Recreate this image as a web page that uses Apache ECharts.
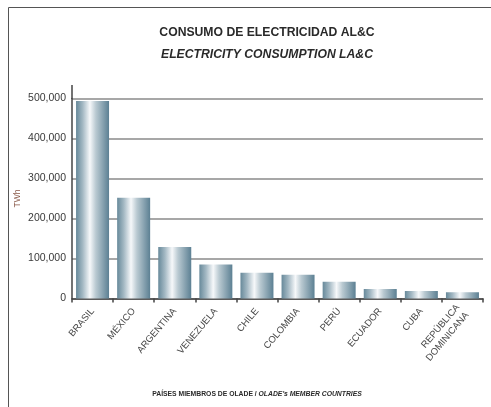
<!DOCTYPE html>
<html>
<head>
<meta charset="utf-8">
<script src="https://cdn.jsdelivr.net/npm/echarts@6/dist/echarts.min.js"></script>
<style>html,body{margin:0;padding:0;background:#fff}#c{width:491px;height:407px}</style>
</head>
<body>
<div id="c"></div>
<script>
var categories = ['BRASIL','MÉXICO','ARGENTINA','VENEZUELA','CHILE','COLOMBIA','PERÚ','ECUADOR','CUBA','REPÚBLICA\nDOMINICANA'];
var consumption = [494000, 252000, 129000, 85000, 64500, 59500, 42000, 23500, 18500, 15500];
var yTicks = [0, 100000, 200000, 300000, 400000, 500000];

var chart = echarts.init(document.getElementById('c'), null, {renderer: 'canvas'});
var font = '"Liberation Sans", Arial, sans-serif';
var barGrad = new echarts.graphic.LinearGradient(0, 0, 1, 0, [
  {offset: 0, color: '#67899a'},
  {offset: 0.2, color: '#a3b8c3'},
  {offset: 0.42, color: '#f6f8fa'},
  {offset: 0.6, color: '#b9c9d1'},
  {offset: 1, color: '#5c8093'}
]);
chart.setOption({
  animation: false,
  title: [
    {text: 'CONSUMO DE ELECTRICIDAD AL&C', left: 262, top: 22, textAlign: 'center',
     textStyle: {fontFamily: font, fontWeight: 'bold', fontSize: 12.2, color: '#2a2a2a'}},
    {text: 'ELECTRICITY CONSUMPTION LA&C', left: 262, top: 44, textAlign: 'center',
     textStyle: {fontFamily: font, fontWeight: 'bold', fontStyle: 'italic', fontSize: 12.2, color: '#2a2a2a'}},
    {text: '{a|PAÍSES MIEMBROS DE OLADE / }{b|OLADE\'s MEMBER COUNTRIES}', left: 252, top: 386, textAlign: 'center',
     textStyle: {rich: {
       a: {fontFamily: font, fontWeight: 'bold', fontSize: 6.8, color: '#2a2a2a'},
       b: {fontFamily: font, fontWeight: 'bold', fontStyle: 'italic', fontSize: 6.8, color: '#2a2a2a'}
     }}}
  ],
  grid: {left: 72, right: 8, top: 98.5, bottom: 108.5, containLabel: false},
  xAxis: {
    type: 'category', data: categories,
    axisLine: {lineStyle: {color: '#444', width: 1.5}},
    axisTick: {show: true, length: 4, alignWithLabel: false, lineStyle: {color: '#444', width: 1.5}},
    axisLabel: {rotate: 50, interval: 0, margin: 11, fontFamily: font, fontSize: 9.5, color: '#4a4a4a', lineHeight: 12, align: 'right'}
  },
  yAxis: {
    type: 'value', min: 0, max: 500000, interval: 100000,
    name: 'TWh', nameLocation: 'middle', nameGap: 50, nameRotate: 90, nameMoveOverlap: false,
    nameTextStyle: {fontFamily: font, fontSize: 8.5, color: '#8a5a4a'},
    axisLine: {show: true, lineStyle: {color: '#444', width: 1.5}},
    axisTick: {show: false},
    splitLine: {lineStyle: {color: '#8a8a8a', width: 1.6}},
    axisLabel: {fontFamily: font, fontSize: 10.5, color: '#3a3a3a', margin: 6,
      formatter: function (v) { return v.toLocaleString('en-US'); }}
  },
  series: [{
    type: 'bar', data: consumption, barWidth: 33,
    itemStyle: {color: barGrad}
  }],
  graphic: [
    {type: 'line', shape: {x1: 72, y1: 85, x2: 72, y2: 99}, style: {stroke: '#444', lineWidth: 1.5}},
    {type: 'polyline', shape: {points: [[8.5, 420], [8.5, 7.5], [520, 7.5]]}, style: {stroke: '#555', lineWidth: 1, fill: null}}
  ]
});
</script>
</body>
</html>
